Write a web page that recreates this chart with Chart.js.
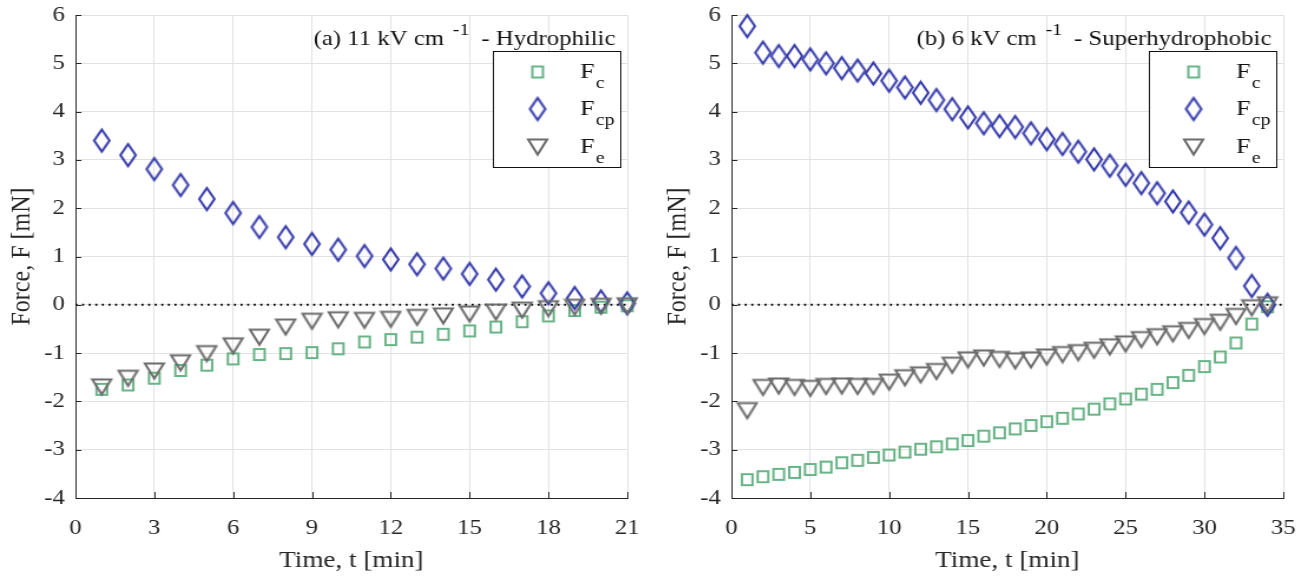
<!DOCTYPE html>
<html>
<head>
<meta charset="UTF-8">
<title>Force vs time</title>
<script src="https://cdn.jsdelivr.net/npm/chart.js"></script>
<style>
  body { margin: 0; background: #fff; }
  .wrap { position: relative; width: 1308px; height: 579px; }
  canvas { position: absolute; top: 0; }
  .fontprobe { position: absolute; left: -9999px; top: 0; font-family: 'Liberation Serif'; font-size: 21px; }
</style>
</head>
<body>
<span class="fontprobe">Force, F [mN] 0123456789</span>
<div class="wrap">
  <canvas id="chartA" width="553" height="579" style="left:0px;width:652px;height:579px"></canvas>
  <canvas id="chartB" width="553" height="579" style="left:656px;width:652px;height:579px"></canvas>
</div>
<script>
// (a) 11 kV/cm - hydrophilic
const timeA = [1, 2, 3, 4, 5, 6, 7, 8, 9, 10, 11, 12, 13, 14, 15, 16, 17, 18, 19, 20, 21];
const fcA  = [-1.75, -1.66, -1.52, -1.36, -1.25, -1.12, -1.03, -1.01, -0.99, -0.91, -0.77, -0.72, -0.67, -0.61, -0.54, -0.46, -0.35, -0.23, -0.12, -0.05, -0.02];
const fcpA = [3.40, 3.10, 2.81, 2.48, 2.19, 1.90, 1.61, 1.40, 1.26, 1.14, 1.01, 0.94, 0.84, 0.75, 0.64, 0.52, 0.38, 0.24, 0.14, 0.07, 0.03];
const feA  = [-1.70, -1.52, -1.37, -1.20, -1.01, -0.85, -0.67, -0.46, -0.34, -0.31, -0.32, -0.30, -0.26, -0.23, -0.19, -0.15, -0.11, -0.08, -0.05, -0.03, -0.02];

// (b) 6 kV/cm - superhydrophobic
const timeB = [1, 2, 3, 4, 5, 6, 7, 8, 9, 10, 11, 12, 13, 14, 15, 16, 17, 18, 19, 20, 21, 22, 23, 24, 25, 26, 27, 28, 29, 30, 31, 32, 33, 34];
const fcB  = [-3.62, -3.56, -3.51, -3.47, -3.41, -3.36, -3.27, -3.22, -3.16, -3.11, -3.05, -2.99, -2.94, -2.88, -2.81, -2.72, -2.65, -2.57, -2.50, -2.42, -2.35, -2.26, -2.16, -2.05, -1.95, -1.85, -1.75, -1.61, -1.46, -1.28, -1.08, -0.79, -0.40, -0.04];
const fcpB = [5.77, 5.22, 5.15, 5.15, 5.08, 5.00, 4.90, 4.85, 4.79, 4.64, 4.50, 4.39, 4.24, 4.05, 3.88, 3.76, 3.70, 3.68, 3.55, 3.43, 3.33, 3.17, 3.01, 2.88, 2.69, 2.52, 2.31, 2.14, 1.91, 1.66, 1.38, 0.97, 0.39, 0.00];
const feB  = [-2.19, -1.71, -1.68, -1.71, -1.73, -1.69, -1.68, -1.69, -1.69, -1.60, -1.51, -1.45, -1.38, -1.25, -1.14, -1.10, -1.13, -1.16, -1.14, -1.08, -1.03, -0.99, -0.94, -0.87, -0.81, -0.72, -0.66, -0.60, -0.53, -0.45, -0.36, -0.24, -0.06, 0.00];

const xTicksA = [0, 3, 6, 9, 12, 15, 18, 21];
const xTicksB = [0, 5, 10, 15, 20, 25, 30, 35];
const yTicks = [-4, -3, -2, -1, 0, 1, 2, 3, 4, 5, 6];
const zeroLineA = [0, 21];
const zeroLineB = [0, 35];
const zeroLevel = [0, 0];

const titleA = ['(a) 11 kV cm', '-1', '- Hydrophilic'];
const titleB = ['(b) 6 kV cm', '-1', '- Superhydrophobic'];
const seriesNames = [['F', 'c'], ['F', 'cp'], ['F', 'e']];

const SERIF = "'Liberation Serif', 'Times New Roman', Times, serif";
const GREEN = '#69b487';
const BLUE = '#3136a8';
const GRAY = '#6b6b6b';
const INK = '#262626';

// canvases are stretched horizontally by css (652/553), so markers are drawn a bit narrower
function markerCanvas(w, h, draw) {
  const c = document.createElement('canvas');
  c.width = w; c.height = h;
  const g = c.getContext('2d');
  g.lineWidth = 2;
  g.lineJoin = 'miter';
  draw(g);
  return c;
}
const squareMark = markerCanvas(13, 15, g => {
  g.strokeStyle = GREEN;
  g.strokeRect(2, 2, 9, 11);
});
const diamondMark = markerCanvas(17, 27, g => {
  g.strokeStyle = BLUE;
  g.beginPath();
  g.moveTo(8.5, 2.5); g.lineTo(15, 13.5); g.lineTo(8.5, 24.5); g.lineTo(2, 13.5);
  g.closePath(); g.stroke();
});
const triMark = markerCanvas(20, 20, g => {
  g.strokeStyle = GRAY;
  g.beginPath();
  g.moveTo(2, 2.5); g.lineTo(18, 2.5); g.lineTo(10, 17.5);
  g.closePath(); g.stroke();
});
const marks = [squareMark, diamondMark, triMark];

function pts(xs, ys) {
  return xs.map((x, i) => ({ x: x, y: ys[i] }));
}

const decor = {
  id: 'decor',
  afterDraw(chart, args, opts) {
    const ctx = chart.ctx;
    const a = chart.chartArea;
    const xs = chart.scales.x, ys = chart.scales.y;

    // inward tick marks
    ctx.save();
    ctx.strokeStyle = INK;
    ctx.lineWidth = 1;
    ctx.beginPath();
    xs.ticks.forEach(t => {
      const px = Math.round(xs.getPixelForValue(t.value)) + 0.5;
      ctx.moveTo(px, a.bottom); ctx.lineTo(px, a.bottom - 6);
    });
    ys.ticks.forEach(t => {
      const py = Math.round(ys.getPixelForValue(t.value)) + 0.5;
      ctx.moveTo(a.left, py); ctx.lineTo(a.left + 5, py);
    });
    ctx.stroke();

    // panel title with superscript
    const [main, sup, rest] = opts.title;
    ctx.fillStyle = '#111';
    ctx.textBaseline = 'alphabetic';
    ctx.textAlign = 'left';
    ctx.font = '21px ' + SERIF;
    const wRest = ctx.measureText(rest).width;
    const wMain = ctx.measureText(main).width;
    ctx.font = '17px ' + SERIF;
    const wSup = ctx.measureText(sup).width;
    let x = 522 - wRest;
    ctx.font = '21px ' + SERIF;
    ctx.fillText(rest, x, 45);
    x -= 10 + wSup;
    ctx.font = '17px ' + SERIF;
    ctx.fillText(sup, x, 35);
    x -= 7.5 + wMain;
    ctx.font = '21px ' + SERIF;
    ctx.fillText(main, x, 45);

    // legend box
    ctx.fillStyle = '#fff';
    ctx.fillRect(418, 51, 109, 117);
    ctx.strokeStyle = '#111';
    ctx.lineWidth = 1;
    ctx.strokeRect(418.5, 51.5, 108, 116);
    const rowY = [72, 109, 147];
    seriesNames.forEach((nm, i) => {
      const m = marks[i];
      ctx.drawImage(m, 456 - m.width / 2, rowY[i] - m.height / 2);
      ctx.fillStyle = '#111';
      ctx.font = '22px ' + SERIF;
      ctx.fillText(nm[0], 492, rowY[i] + 6);
      const wF = ctx.measureText(nm[0]).width;
      ctx.font = '17px ' + SERIF;
      ctx.fillText(nm[1], 492 + wF + 1, rowY[i] + 16);
    });
    ctx.restore();
  }
};

function makeChart(id, time, fc, fcp, fe, xMax, xTicks, zeroX, title) {
  return new Chart(document.getElementById(id), {
    type: 'scatter',
    data: {
      datasets: [
        { label: 'Fe', data: pts(time, fe), pointStyle: triMark, pointRadius: 8, clip: false, order: 0 },
        { label: 'Fcp', data: pts(time, fcp), pointStyle: diamondMark, pointRadius: 8, clip: false, order: 1 },
        { label: 'Fc', data: pts(time, fc), pointStyle: squareMark, pointRadius: 8, clip: false, order: 2 },
        { label: 'zero', data: pts(zeroX, zeroLevel), showLine: true, pointRadius: 0,
          borderColor: '#000', borderWidth: 2, borderDash: [1.7, 3.9], order: 5 }
      ]
    },
    options: {
      responsive: false,
      animation: false,
      events: [],
      layout: { padding: { top: 15, right: 21, left: 0, bottom: 0 } },
      scales: {
        x: {
          type: 'linear', min: 0, max: xMax,
          afterBuildTicks: s => { s.ticks = xTicks.map(v => ({ value: v })); },
          afterFit: s => { s.height = 81; s.paddingLeft = 0; s.paddingRight = 0; },
          grid: { color: '#e2e2e2', drawTicks: false },
          border: { color: INK, width: 1 },
          ticks: { padding: 18, font: { size: 21 }, maxRotation: 0, autoSkip: false },
          title: { display: true, text: 'Time, t [min]', font: { size: 23 }, padding: { top: 0, bottom: 4 } }
        },
        y: {
          min: -4, max: 6,
          afterBuildTicks: s => { s.ticks = yTicks.map(v => ({ value: v })); },
          afterFit: s => { s.width = 64; s.paddingTop = 0; s.paddingBottom = 0; },
          grid: { color: '#e2e2e2', drawTicks: false },
          border: { color: INK, width: 1 },
          ticks: { padding: 9, font: { size: 21 } },
          title: { display: true, text: 'Force, F [mN]', font: { size: 24 }, padding: { top: 4, bottom: 0 } }
        }
      },
      plugins: {
        legend: { display: false },
        tooltip: { enabled: false },
        decor: { title: title }
      }
    },
    plugins: [decor]
  });
}

function drawAll() {
  Chart.defaults.font.family = SERIF;
  Chart.defaults.color = INK;
  makeChart('chartA', timeA, fcA, fcpA, feA, 21, xTicksA, zeroLineA, titleA);
  makeChart('chartB', timeB, fcB, fcpB, feB, 35, xTicksB, zeroLineB, titleB);
}

document.fonts.load('21px "Liberation Serif"').then(drawAll, drawAll);
</script>
</body>
</html>
